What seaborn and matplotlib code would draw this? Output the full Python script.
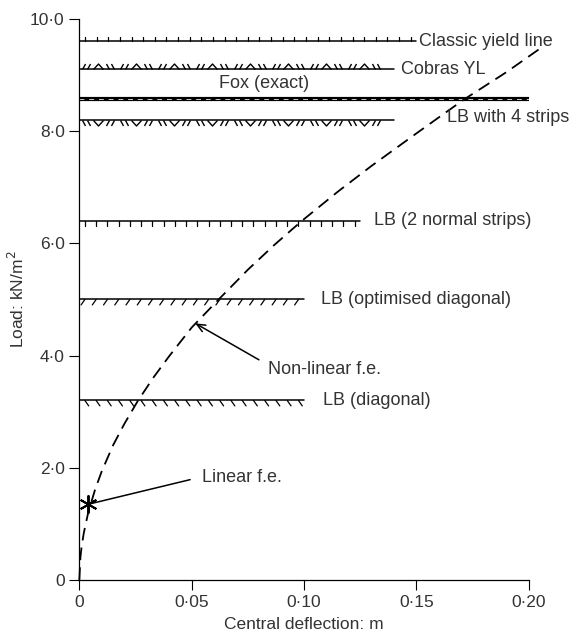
import matplotlib
matplotlib.use("Agg")
import matplotlib.pyplot as plt
import matplotlib.patheffects as pe
from matplotlib.path import Path
import numpy as np
import seaborn as sns

# non-linear f.e. load-deflection curve
curve_x = [0.0, 0.0005, 0.001, 0.002, 0.004, 0.007, 0.01, 0.015, 0.02, 0.026,
           0.033, 0.04, 0.05, 0.062, 0.075, 0.087, 0.099, 0.115, 0.13, 0.15,
           0.171, 0.19, 0.206]
curve_y = [0.0, 0.41, 0.59, 0.84, 1.21, 1.61, 1.94, 2.4, 2.78, 3.19,
           3.61, 3.99, 4.5, 5.0, 5.53, 5.98, 6.4, 6.92, 7.38, 7.96,
           8.56, 9.05, 9.5]

# linear f.e. point
linear_x = [0.004]
linear_y = [1.35]

# horizontal load levels and where each line stops
classic_yl = 9.6
classic_end = 0.15
cobras_yl = 9.1
cobras_end = 0.14
fox_exact = 8.58
lb4_strips = 8.58
fox_end = 0.20
lb4_hatch = 8.2
lb4_hatch_end = 0.14
lb_2normal = 6.4
lb_2normal_end = 0.125
lb_optdiag = 5.0
lb_optdiag_end = 0.10
lb_diag = 3.2
lb_diag_end = 0.10

x_ticks = [0, 0.05, 0.10, 0.15, 0.20]
x_ticklabels = ["0", "0·05", "0·10", "0·15", "0·20"]
y_ticks = [0, 2, 4, 6, 8, 10]
y_ticklabels = ["0", "2·0", "4·0", "6·0", "8·0", "10·0"]

sns.set_theme(style="ticks")
plt.rcParams['font.family'] = ['Liberation Sans', 'DejaVu Sans']
txt = "#333333"

fig = plt.figure(figsize=(5.74, 6.41), dpi=100)
ax = fig.add_axes([0.1382, 0.0952, 0.7829, 0.8752])

# zigzag group marker "//^\\" (above the line) and mirrored "\\v//" (below)
h = 5.5
up_verts = [(-16, 0), (-13, h), (-11, 0), (-8, h), (-5, 0), (0, h), (5, 0),
            (8, h), (11, 0), (13, h), (16, 0)]
up_codes = [Path.MOVETO, Path.LINETO, Path.MOVETO, Path.LINETO, Path.MOVETO,
            Path.LINETO, Path.LINETO, Path.MOVETO, Path.LINETO, Path.MOVETO, Path.LINETO]
zig_up = Path(up_verts, up_codes)
zig_down = Path([(vx, -vy) for vx, vy in up_verts], up_codes)

lw = 1.1
# classic yield line: ticks above
ax.plot([0, classic_end], [classic_yl, classic_yl], color="black", lw=lw,
        path_effects=[pe.withTickedStroke(spacing=8.2, angle=90, length=0.4, linewidth=0.9)])
ax.text(classic_end + 0.001, classic_yl, "Classic yield line", va="center", ha="left",
        fontsize=13, color=txt)

# Cobras YL: zigzag above
ax.plot([0, cobras_end], [cobras_yl, cobras_yl], color="black", lw=lw)
gx = np.arange(0.0083, cobras_end - 0.006, 0.0169)
ax.plot(gx, np.full_like(gx, cobras_yl), linestyle="none", marker=zig_up,
        markersize=23, markeredgewidth=1.0, markeredgecolor="black", fillstyle="none")
ax.text(cobras_end + 0.003, cobras_yl, "Cobras YL", va="center", ha="left",
        fontsize=13, color=txt)

# Fox (exact) and LB with 4 strips
ax.plot([0, fox_end], [fox_exact, fox_exact], color="black", lw=3.0, solid_capstyle="butt")
ax.plot([0, fox_end], [lb4_strips, lb4_strips], color="#c8c8c8", lw=0.7,
        linestyle=(0, (5, 5)))
ax.text(0.082, 8.85, "Fox (exact)", va="center", ha="center", fontsize=13, color=txt)
ax.text(0.1636, 8.24, "LB with 4 strips", va="center", ha="left", fontsize=13, color=txt)

# LB 4 strips hatch line: zigzag below
ax.plot([0, lb4_hatch_end], [lb4_hatch, lb4_hatch], color="black", lw=lw)
ax.plot(gx, np.full_like(gx, lb4_hatch), linestyle="none", marker=zig_down,
        markersize=23, markeredgewidth=1.0, markeredgecolor="black", fillstyle="none")

# LB (2 normal strips): ticks below
ax.plot([0, lb_2normal_end], [lb_2normal, lb_2normal], color="black", lw=lw,
        path_effects=[pe.withTickedStroke(spacing=8.0, angle=-90, length=0.42, linewidth=0.9)])
ax.text(0.131, lb_2normal, "LB (2 normal strips)", va="center", ha="left",
        fontsize=13, color=txt)

# LB (optimised diagonal): "/" ticks below
ax.plot([0, lb_optdiag_end], [lb_optdiag, lb_optdiag], color="black", lw=lw,
        path_effects=[pe.withTickedStroke(spacing=8.0, angle=-125, length=0.6, linewidth=0.9)])
ax.text(0.1076, lb_optdiag, "LB (optimised diagonal)", va="center", ha="left",
        fontsize=13, color=txt)

# LB (diagonal): "\" ticks below
ax.plot([0, lb_diag_end], [lb_diag, lb_diag], color="black", lw=lw,
        path_effects=[pe.withTickedStroke(spacing=8.0, angle=-55, length=0.6, linewidth=0.9)])
ax.text(0.1085, lb_diag, "LB (diagonal)", va="center", ha="left", fontsize=13, color=txt)

# non-linear f.e. curve
sns.lineplot(x=curve_x, y=curve_y, ax=ax, color="black", lw=1.3,
             linestyle=(0, (7, 4)), clip_on=False, legend=False)

# linear f.e. point
ax.plot(linear_x, linear_y, linestyle="none", marker=(6, 2, 0), markersize=13,
        markeredgewidth=1.4, color="black", clip_on=False, zorder=5)
ax.annotate("", xy=(linear_x[0], linear_y[0]), xytext=(0.0505, 1.8),
            arrowprops=dict(arrowstyle="-", color="black", lw=1.1))
ax.text(0.0545, 1.82, "Linear f.e.", va="center", ha="left", fontsize=13, color=txt)

ax.annotate("", xy=(0.0505, 4.6), xytext=(0.081, 3.9),
            arrowprops=dict(arrowstyle="->,head_length=0.5,head_width=0.22",
                            color="black", lw=1.1))
ax.text(0.084, 3.75, "Non-linear f.e.", va="center", ha="left", fontsize=13, color=txt)

ax.set_xlim(0, 0.20)
ax.set_ylim(0, 10)
ax.set_xticks(x_ticks)
ax.set_xticklabels(x_ticklabels)
ax.set_yticks(y_ticks)
ax.set_yticklabels(y_ticklabels)
ax.tick_params(axis="both", direction="out", length=7, width=0.8, colors="black",
               labelsize=12.5, labelcolor=txt)
sns.despine(ax=ax)
for s in ["left", "bottom"]:
    ax.spines[s].set_linewidth(0.9)
    ax.spines[s].set_color("black")
ax.set_xlabel("Central deflection: m", fontsize=12.5, color=txt, labelpad=5)
ax.set_ylabel("Load: kN/m$^2$", fontsize=12.5, color=txt, labelpad=2)

fig.savefig("out.png", dpi=100, facecolor="white")
